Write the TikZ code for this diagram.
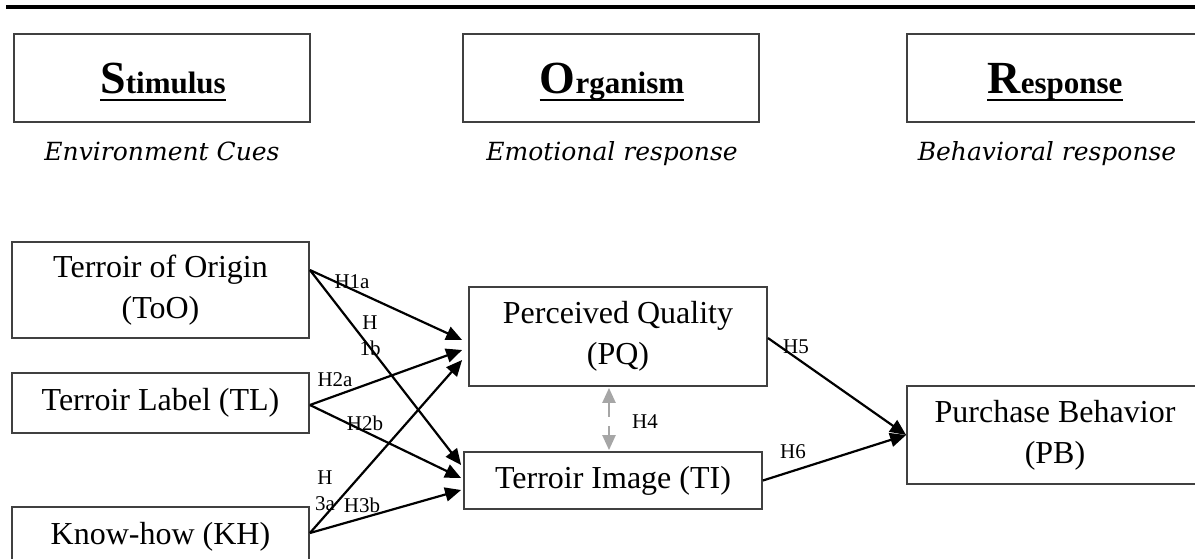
\documentclass[tikz,border=0pt]{standalone}
\usepackage{fontspec}
\setmainfont{Liberation Serif}
\newfontfamily\subfont{DejaVu Serif}
\usetikzlibrary{arrows.meta,calc}
\newcommand\hdrword[2]{{\fontsize{46}{46}\selectfont\bfseries #1}{\fontsize{31}{31}\selectfont\bfseries #2}}
\tikzset{
 hbox/.style={draw=black!75,line width=1.8pt,minimum width=296pt,minimum height=88pt,inner sep=0pt},
 vbox/.style={draw=black!75,line width=1.8pt,inner sep=0pt,align=center,font=\fontsize{32}{41}\selectfont},
 hdr/.style={inner sep=0pt,anchor=base},
 sub/.style={font=\subfont\itshape\fontsize{25}{30}\selectfont,anchor=base,inner sep=0pt},
 link/.style={line width=2.2pt,-{Triangle[length=16pt,width=14pt]}},
 biarrow/.style={line width=2.4pt,black!35,{Triangle[length=15pt,width=13pt]}-{Triangle[length=15pt,width=13pt]},dash pattern=on 15pt off 9pt},
 lab/.style={font=\fontsize{21}{26}\selectfont,inner sep=0pt,align=center},
 uline/.style={line width=2.5pt}
}
\begin{document}
\begin{tikzpicture}[x=1pt,y=-1pt]
\useasboundingbox (0,0) rectangle (1195,558);
\clip (0,0) rectangle (1195,558);
\coordinate (tl0) at (6,7);
\coordinate (tl1) at (1200,7);
\draw[line width=3.2pt] (tl0) -- (tl1);
% header boxes
\node[hbox] (Stim) at (162,78) {};
\node[hbox] (Org) at (611,78) {};
\node[hbox] (Resp) at (1055,78) {};
\node[hdr] (StimT) at (163,93) {\hdrword{S}{timulus}};
\node[hdr] (OrgT) at (612,93) {\hdrword{O}{rganism}};
\node[hdr] (RespT) at (1055,93) {\hdrword{R}{esponse}};
\foreach \n in {StimT,OrgT,RespT}
  \draw[uline] ([yshift=-7pt]\n.base west) -- ([yshift=-7pt]\n.base east);
\node[sub] (SubS) at (162,160) {Environment Cues};
\node[sub] (SubO) at (612,160) {Emotional response};
\node[sub] (SubR) at (1047,160) {Behavioral response};
% construct boxes
\node[vbox,minimum width=297pt,minimum height=96pt] (ToO) at (160.5,290) {Terroir of Origin\\(ToO)};
\node[vbox,minimum width=297pt,minimum height=60pt] (TL) at (160.5,403) {Terroir Label (TL)};
\node[vbox,minimum width=297pt,minimum height=60pt] (KH) at (160.5,537) {Know-how (KH)};
\node[vbox,minimum width=298pt,minimum height=99pt] (PQ) at (618,336.5) {Perceived Quality\\(PQ)};
\node[vbox,minimum width=298pt,minimum height=57pt] (TI) at (613,480.5) {Terroir Image (TI)};
\node[vbox,minimum width=296pt,minimum height=98pt] (PB) at (1055,435) {Purchase Behavior\\(PB)};
% connectors
\draw[link] ($(ToO.east)+(0,-20)$) -- ($(PQ.west)+(-6,3.5)$);
\draw[link] ($(ToO.east)+(0,-20)$) -- ($(TI.west)+(-2,-15.5)$);
\draw[link] ($(TL.east)+(0,2)$) -- ($(PQ.west)+(-6,13.5)$);
\draw[link] ($(TL.east)+(0,2)$) -- ($(TI.west)+(-2,-2.5)$);
\draw[link] ($(KH.east)+(0,-4)$) -- ($(PQ.west)+(-6,23.5)$);
\draw[link] ($(KH.east)+(0,-4)$) -- ($(TI.west)+(-2,9.5)$);
\draw[link] ($(PQ.east)+(0,1.5)$) -- (PB.west);
\draw[link] (TI.east) -- (PB.west);
\draw[biarrow] ($(PQ.south)+(-9,1)$) -- ($(TI.north)+(-4,-1)$);
% labels
\node[lab] (H1a) at (352,282) {H1a};
\node[lab] (H1b) at (370,336) {H\\1b};
\node[lab] (H2a) at (335,380) {H2a};
\node[lab] (H2b) at (365,423) {H2b};
\node[lab] (H3a) at (325,491) {H\\3a};
\node[lab] (H3b) at (362,505) {H3b};
\node[lab] (H4) at (645,422) {H4};
\node[lab] (H5) at (796,347) {H5};
\node[lab] (H6) at (793,452) {H6};
\end{tikzpicture}
\end{document}
